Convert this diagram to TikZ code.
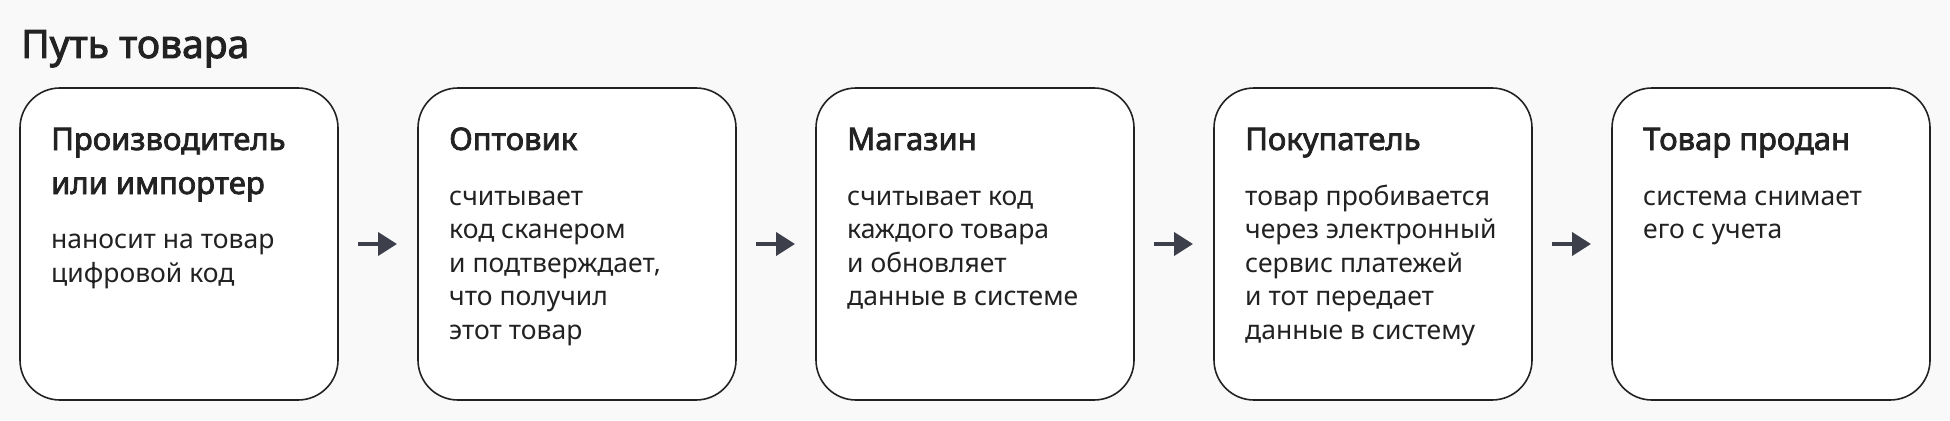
\documentclass[tikz,border=0pt]{standalone}
\usepackage{fontspec}
\setmainfont{Noto Sans}
\newfontfamily\headfont[FakeBold=2.4]{Noto Sans}
\usetikzlibrary{positioning,arrows.meta}

\definecolor{ink}{HTML}{222222}
\definecolor{paper}{HTML}{F9F9F9}
\definecolor{arrowgray}{HTML}{3D3F4B}

\tikzset{
  stage/.style={draw=ink, line width=1.6pt, fill=white, rounded corners=40pt,
    minimum width=318pt, minimum height=312pt, inner sep=0pt, outer sep=0pt},
  stagehead/.style={anchor=base west, align=left, inner sep=0pt, text=ink,
    font=\headfont\fontsize{31}{44}\selectfont},
  stagetext/.style={anchor=base west, align=left, inner sep=0pt, text=ink,
    font=\fontsize{26.5}{33.6}\selectfont},
  flow/.style={draw=arrowgray, line width=4pt, -{Triangle[length=19pt,width=23pt]}}
}

\begin{document}
\begin{tikzpicture}
\fill[paper] (0,0) rectangle (1950pt,-420pt);
\useasboundingbox (0,0) rectangle (1950pt,-420pt);

\node[anchor=base west, inner sep=0pt, text=ink, font=\headfont\fontsize{39}{44}\selectfont] (title) at (21pt,-58pt) {Путь товара};

% boxes
\node[stage, anchor=north west] (box1) at (20pt,-88pt) {};
\node[stage, right=80pt of box1] (box2) {};
\node[stage, right=80pt of box2] (box3) {};
\node[stage, right=80pt of box3] (box4) {};
\node[stage, right=80pt of box4] (box5) {};

% texts: base = baseline of the last line
\node[stagehead] (head1) at ([shift={(31pt,-106pt)}]box1.north west) {Производитель\\или импортер};
\node[stagetext] (text1) at ([shift={(31pt,-194pt)}]box1.north west) {наносит на товар\\цифровой код};

\node[stagehead] (head2) at ([shift={(31pt,-62pt)}]box2.north west) {Оптовик};
\node[stagetext] (text2) at ([shift={(31pt,-251.4pt)}]box2.north west) {считывает\\код сканером\\и подтверждает,\\что получил\\этот товар};

\node[stagehead] (head3) at ([shift={(31pt,-62pt)}]box3.north west) {Магазин};
\node[stagetext] (text3) at ([shift={(31pt,-217.8pt)}]box3.north west) {считывает код\\каждого товара\\и обновляет\\данные в системе};

\node[stagehead] (head4) at ([shift={(31pt,-62pt)}]box4.north west) {Покупатель};
\node[stagetext] (text4) at ([shift={(31pt,-251.4pt)}]box4.north west) {товар пробивается\\через электронный\\сервис платежей\\и тот передает\\данные в систему};

\node[stagehead] (head5) at ([shift={(31pt,-62pt)}]box5.north west) {Товар продан};
\node[stagetext] (text5) at ([shift={(31pt,-150.6pt)}]box5.north west) {система снимает\\его с учета};

% arrows
\foreach \a/\b in {box1/box2, box2/box3, box3/box4, box4/box5}
  \draw[flow] ([xshift=20pt]\a.east) -- ([xshift=-21pt]\b.west);
\end{tikzpicture}
\end{document}
